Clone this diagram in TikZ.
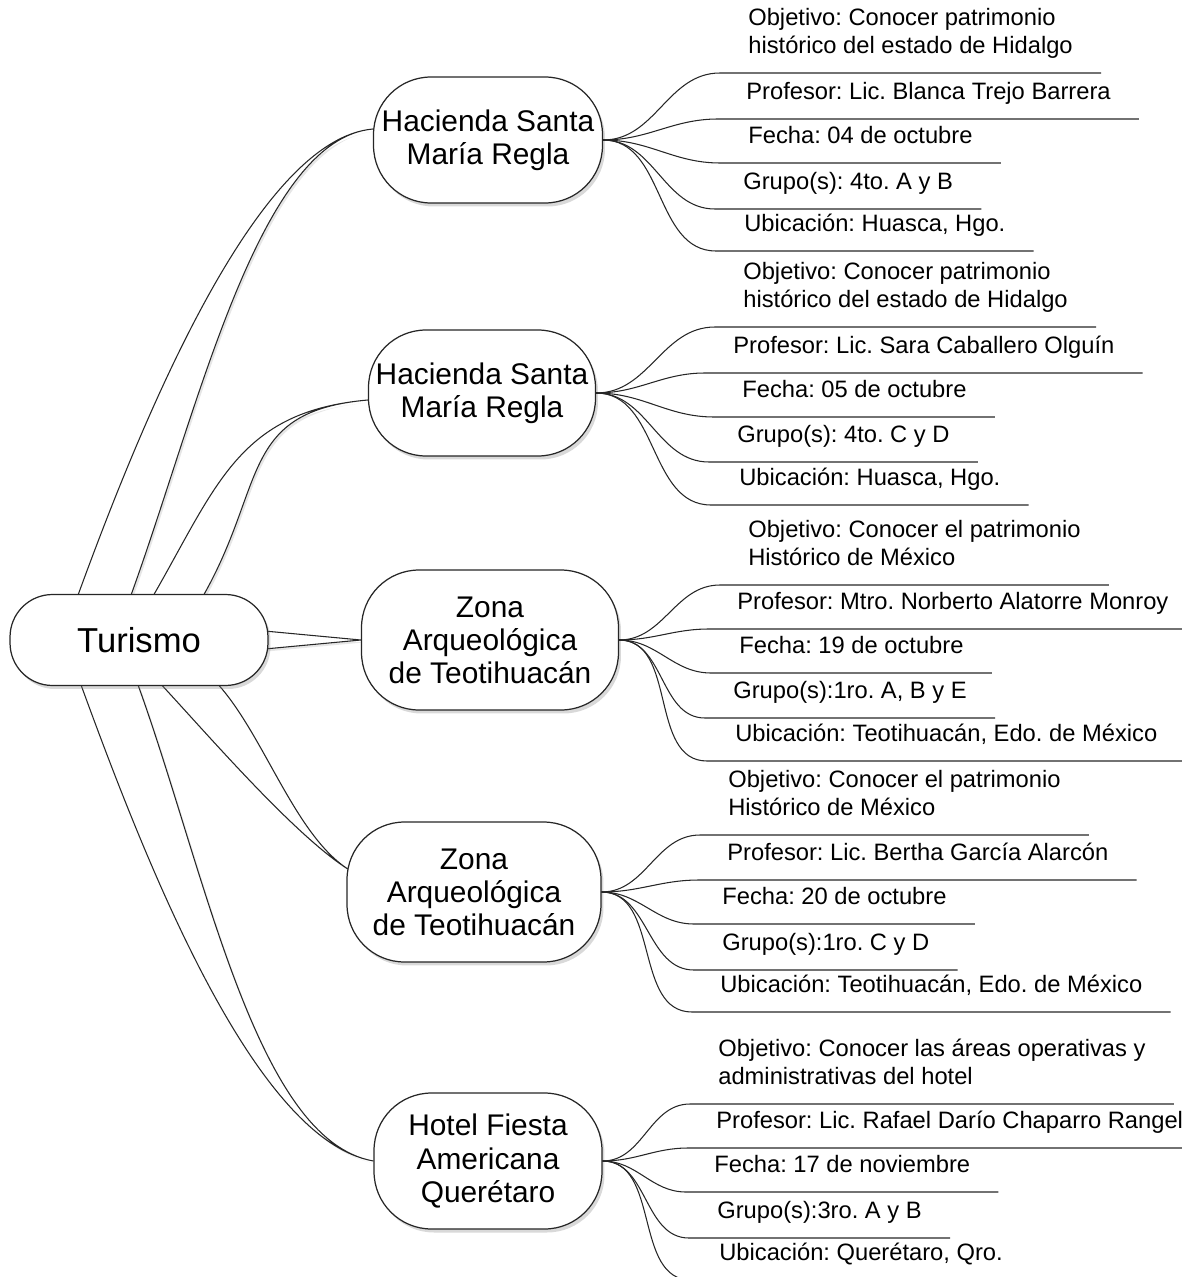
\documentclass[tikz,border=0pt]{standalone}
\usepackage{fontspec}
\setmainfont{Liberation Sans}
\frenchspacing
\usetikzlibrary{shadows,backgrounds,calc}
\colorlet{penColor}{black!85}
\tikzset{
  mainBox/.style={draw=penColor, fill=white, line width=0.7pt, rounded corners=0.85cm,
    minimum width=5.16cm, minimum height=1.82cm, font=\fontsize{19.7}{23}\selectfont,
    drop shadow={shadow xshift=0.05cm, shadow yshift=-0.07cm, opacity=0.3}},
  topicBox/.style={draw=penColor, fill=white, line width=0.7pt, rounded corners=1.15cm,
    align=center, font=\fontsize{17}{18.8}\selectfont,
    drop shadow={shadow xshift=0.05cm, shadow yshift=-0.07cm, opacity=0.3}},
  leafText/.style={anchor=south west, align=left, inner xsep=0.56cm, inner ysep=0.21cm,
    font=\fontsize{13.5}{15.9}\selectfont, execute at end node=\strut},
  twigLine/.style={draw=penColor, line width=0.6pt},
  branchBand/.style={draw=penColor, fill=white, line width=0.6pt,
    drop shadow={shadow xshift=0.04cm, shadow yshift=-0.05cm, opacity=0.2}}
}

\begin{document}
\begin{tikzpicture}[x=0.02cm, y=0.02cm]
\useasboundingbox (0,0) rectangle (1181,-1277);
\node [mainBox] (tur) at (139,-640) {Turismo};
\node [topicBox, minimum width=4.58cm, minimum height=2.52cm] (c1) at (488,-140) {Hacienda Santa\\María Regla};
\node [topicBox, minimum width=4.54cm, minimum height=2.52cm] (c2) at (482,-393) {Hacienda Santa\\María Regla};
\node [topicBox, minimum width=5.14cm, minimum height=2.8cm] (c3) at (490,-640) {Zona\\Arqueológica\\de Teotihuacán};
\node [topicBox, minimum width=5.08cm, minimum height=2.8cm] (c4) at (474,-892) {Zona\\Arqueológica\\de Teotihuacán};
\node [topicBox, minimum width=4.56cm, minimum height=2.72cm] (c5) at (488,-1161) {Hotel Fiesta\\Americana\\Querétaro};
% bands from Turismo
\begin{scope}[on background layer]
\path[branchBand] ($(tur.north)+(-62,-4)$) to[out=70,in=185,out distance=4cm,in distance=2.3cm] ($(c1.west)+(0,11)$)
  to[out=185,in=70,out distance=2.3cm,in distance=4cm] ($(tur.north)+(-9,-4)$) -- cycle;
\path[branchBand] ($(tur.north)+(13,-4)$) to[out=60,in=185,out distance=2.6cm,in distance=2.6cm] ($(c2.west)+(0,-7)$)
  to[out=185,in=60,out distance=2.6cm,in distance=2.6cm] ($(tur.north)+(63,-4)$) -- cycle;
\path[branchBand] ($(tur.east)+(-4,9)$) -- (c3.west) -- ($(tur.east)+(-4,-9)$) -- cycle;
\path[branchBand] ($(tur.south)+(20,4)$) to[out=-47,in=148,out distance=1.4cm,in distance=1.3cm] ($(c4.west)+(3,22)$)
  to[out=148,in=-47,out distance=1.3cm,in distance=1.4cm] ($(tur.south)+(77,4)$) -- cycle;
\path[branchBand] ($(tur.south)+(-59,4)$) to[out=-70,in=170,out distance=4cm,in distance=2.4cm] (c5.west)
  to[out=170,in=-70,out distance=2.4cm,in distance=4cm] ($(tur.south)+(-2,4)$) -- cycle;
\end{scope}
% Hacienda 1
\node [leafText] (c1o) at (720,-73) {Objetivo: Conocer patrimonio\\histórico del estado de Hidalgo};
\node [leafText] (c1p) at (718,-119) {Profesor: Lic. Blanca Trejo Barrera};
\node [leafText] (c1f) at (720,-163) {Fecha: 04 de octubre};
\node [leafText] (c1g) at (715,-209) {Grupo(s): 4to. A y B};
\node [leafText] (c1u) at (716,-251) {Ubicación: Huasca, Hgo.};
\draw [twigLine] (c1.east) to[out=0,in=180] (c1o.south west) -- (c1o.south east);
\draw [twigLine] (c1.east) to[out=0,in=180] (c1p.south west) -- (c1p.south east);
\draw [twigLine] (c1.east) to[out=0,in=180] (c1f.south west) -- (c1f.south east);
\draw [twigLine] (c1.east) to[out=0,in=180] (c1g.south west) -- (c1g.south east);
\draw [twigLine] (c1.east) to[out=0,in=180] (c1u.south west) -- (c1u.south east);
% Hacienda 2
\node [leafText] (c2o) at (715,-327) {Objetivo: Conocer patrimonio\\histórico del estado de Hidalgo};
\node [leafText] (c2p) at (705,-373) {Profesor: Lic. Sara Caballero Olguín};
\node [leafText] (c2f) at (714,-417) {Fecha: 05 de octubre};
\node [leafText] (c2g) at (709,-462) {Grupo(s): 4to. C y D};
\node [leafText] (c2u) at (711,-505) {Ubicación: Huasca, Hgo.};
\draw [twigLine] (c2.east) to[out=0,in=180] (c2o.south west) -- (c2o.south east);
\draw [twigLine] (c2.east) to[out=0,in=180] (c2p.south west) -- (c2p.south east);
\draw [twigLine] (c2.east) to[out=0,in=180] (c2f.south west) -- (c2f.south east);
\draw [twigLine] (c2.east) to[out=0,in=180] (c2g.south west) -- (c2g.south east);
\draw [twigLine] (c2.east) to[out=0,in=180] (c2u.south west) -- (c2u.south east);
% Teotihuacan 1
\node [leafText] (c3o) at (720,-585) {Objetivo: Conocer el patrimonio\\Histórico de México};
\node [leafText] (c3p) at (709,-629) {Profesor: Mtro. Norberto Alatorre Monroy};
\node [leafText] (c3f) at (711,-673) {Fecha: 19 de octubre};
\node [leafText] (c3g) at (705,-718) {Grupo(s):1ro. A, B y E};
\node [leafText] (c3u) at (707,-761) {Ubicación: Teotihuacán, Edo. de México};
\draw [twigLine] (c3.east) to[out=0,in=180] (c3o.south west) -- (c3o.south east);
\draw [twigLine] (c3.east) to[out=0,in=180] (c3p.south west) -- (c3p.south east);
\draw [twigLine] (c3.east) to[out=0,in=180] (c3f.south west) -- (c3f.south east);
\draw [twigLine] (c3.east) to[out=0,in=180] (c3g.south west) -- (c3g.south east);
\draw [twigLine] (c3.east) to[out=0,in=180] (c3u.south west) -- (c3u.south east);
% Teotihuacan 2
\node [leafText] (c4o) at (700,-835) {Objetivo: Conocer el patrimonio\\Histórico de México};
\node [leafText] (c4p) at (699,-880) {Profesor: Lic. Bertha García Alarcón};
\node [leafText] (c4f) at (694,-924) {Fecha: 20 de octubre};
\node [leafText] (c4g) at (694,-970) {Grupo(s):1ro. C y D};
\node [leafText] (c4u) at (692,-1012) {Ubicación: Teotihuacán, Edo. de México};
\draw [twigLine] (c4.east) to[out=0,in=180] (c4o.south west) -- (c4o.south east);
\draw [twigLine] (c4.east) to[out=0,in=180] (c4p.south west) -- (c4p.south east);
\draw [twigLine] (c4.east) to[out=0,in=180] (c4f.south west) -- (c4f.south east);
\draw [twigLine] (c4.east) to[out=0,in=180] (c4g.south west) -- (c4g.south east);
\draw [twigLine] (c4.east) to[out=0,in=180] (c4u.south west) -- (c4u.south east);
% Hotel
\node [leafText] (c5o) at (690,-1104) {Objetivo: Conocer las áreas operativas y\\administrativas del hotel};
\node [leafText] (c5p) at (688,-1148) {Profesor: Lic. Rafael Darío Chaparro Rangel};
\node [leafText] (c5f) at (686,-1192) {Fecha: 17 de noviembre};
\node [leafText] (c5g) at (689,-1238) {Grupo(s):3ro. A y B};
\node [leafText] (c5u) at (691,-1280) {Ubicación: Querétaro, Qro.};
\draw [twigLine] (c5.east) to[out=0,in=180] (c5o.south west) -- (c5o.south east);
\draw [twigLine] (c5.east) to[out=0,in=180] (c5p.south west) -- (c5p.south east);
\draw [twigLine] (c5.east) to[out=0,in=180] (c5f.south west) -- (c5f.south east);
\draw [twigLine] (c5.east) to[out=0,in=180] (c5g.south west) -- (c5g.south east);
\draw [twigLine] (c5.east) to[out=0,in=180] (c5u.south west) -- (c5u.south east);
\end{tikzpicture}
\end{document}
